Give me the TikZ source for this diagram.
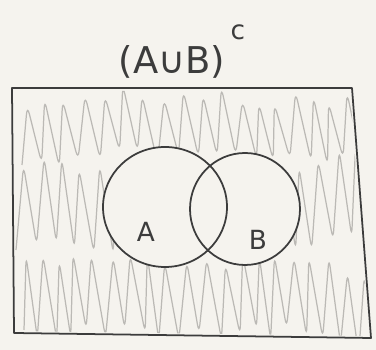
\documentclass[tikz,border=0pt]{standalone}
\usepackage{fontspec}
\setmainfont{DejaVu Sans}
\usepackage{xcolor}
\usetikzlibrary{positioning}
\definecolor{paper}{HTML}{F5F3EE}
\definecolor{pen}{HTML}{3C3C3C}
\definecolor{pencil}{HTML}{BBB9B5}

\begin{document}
\begin{tikzpicture}[
  x=0.02cm, y=-0.02cm,
  outline/.style={draw=pen, line width=1pt, line join=round},
  scribble/.style={draw=pencil, line width=0.7pt, rounded corners=5pt},
  letter/.style={font=\fontsize{15}{15}\selectfont, text=pen},
  heading/.style={font=\fontsize{21}{21}\selectfont, text=pen}
]
\fill[paper] (0,0) rectangle (376,350);
\useasboundingbox (0,0) rectangle (376,350);
\pgfmathsetseed{11}

% shading outside A and B
\begin{scope}
  \clip (14,91) -- (350,91) -- (369,336) -- (16,331) -- cycle;
  \draw[scribble] (22,165) \foreach \i in {1,...,19} { -- ++({4+3*rand},{-62-8*rand}) -- ++({14+2*rand},{62+8*rand}) };
  \draw[scribble] (16,250) \foreach \i in {1,...,20} { -- ++({5+3*rand},{-85-6*rand}) -- ++({13+2*rand},{85+6*rand}) };
  \draw[scribble] (24,330) \foreach \i in {1,...,20} { -- ++({5+3*rand},{-78-8*rand}) -- ++({13+2*rand},{78+8*rand}) };
\end{scope}

% the two sets
\fill[paper] (165,207) ellipse [x radius=62, y radius=60];
\fill[paper] (245,209) ellipse [x radius=55, y radius=56];
\draw[outline] (165,207) ellipse [x radius=62, y radius=60];
\draw[outline] (245,209) ellipse [x radius=55, y radius=56];

% universe
\draw[outline] (12,88) -- (352,88) -- (371,338) -- (14,333) -- cycle;

\node[letter] (labelA) at (146,232) {A};
\node[letter] (labelB) at (258,240) {B};
\node[heading] (title) at (172,62) {(A∪B)};
\node[letter, right=-4pt of title.north east, yshift=4pt] (comp) {c};

\end{tikzpicture}
\end{document}
